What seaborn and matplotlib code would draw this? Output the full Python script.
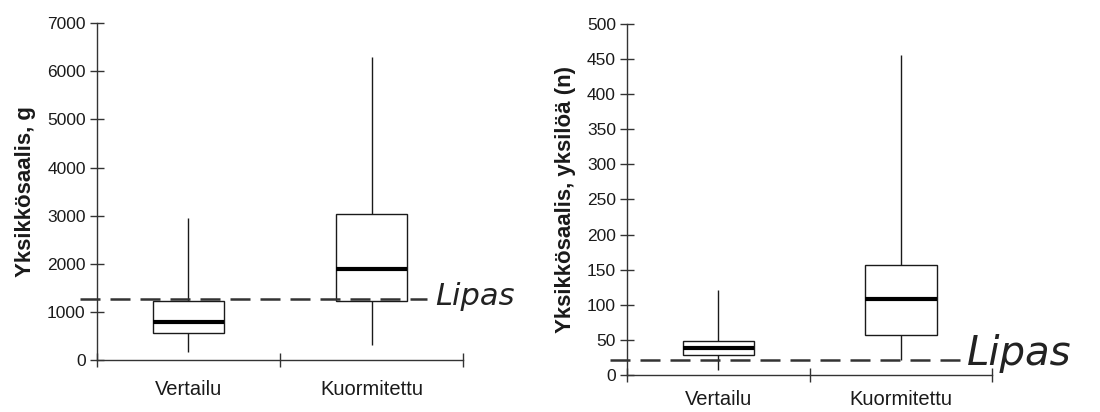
import numpy as np
import pandas as pd
import matplotlib
matplotlib.use("Agg")
import matplotlib.pyplot as plt
import seaborn as sns

# ---- data ----
categories = ["Vertailu", "Kuormitettu"]
# five-number summaries: min, Q1, median, Q3, max
weight_vertailu = [160, 553, 795, 1224, 2960]
weight_kuormitettu = [311, 1224, 1895, 3036, 6293]
count_vertailu = [7, 28, 39, 48, 121]
count_kuormitettu = [21, 57, 108, 157, 456]
lipas_weight = 1259
lipas_count = 21
weight_ticks = [0, 1000, 2000, 3000, 4000, 5000, 6000, 7000]
count_ticks = [0, 50, 100, 150, 200, 250, 300, 350, 400, 450, 500]
ylabel_left = "Yksikkösaalis, g"
ylabel_right = "Yksikkösaalis, yksilöä (n)"
lipas_label = "Lipas"

df_w = pd.DataFrame({
    "group": [categories[0]] * len(weight_vertailu) + [categories[1]] * len(weight_kuormitettu),
    "value": weight_vertailu + weight_kuormitettu,
})
df_n = pd.DataFrame({
    "group": [categories[0]] * len(count_vertailu) + [categories[1]] * len(count_kuormitettu),
    "value": count_vertailu + count_kuormitettu,
})

sns.set_theme(style="white")
plt.rcParams["font.family"] = ["Liberation Sans", "DejaVu Sans"]

fig = plt.figure(figsize=(11, 4.12), dpi=100)
ax1 = fig.add_axes([0.088, 0.126, 0.333, 0.818])
ax2 = fig.add_axes([0.570, 0.090, 0.332, 0.852])

line_col = "#1a1a1a"

def draw(ax, df, ticks, ylabel, lipas, ymax, lipas_xmax, txt_xy, txt_size, xpad):
    sns.boxplot(data=df, x="group", y="value", order=categories, ax=ax,
                whis=(0, 100), width=0.39, showfliers=False, showcaps=False,
                color="white", linecolor=line_col, linewidth=1.0,
                medianprops=dict(color="black", linewidth=3.0),
                boxprops=dict(facecolor="white", edgecolor=line_col, linewidth=1.0),
                whiskerprops=dict(color=line_col, linewidth=1.0))
    ax.axhline(lipas, xmin=-0.047, xmax=lipas_xmax, color="#333333", lw=1.8,
               ls=(0, (8, 4)), clip_on=False, zorder=5)
    ax.set_xlim(-0.5, 1.5)
    ax.set_ylim(0, ymax)
    ax.set_yticks(ticks)
    ax.set_yticklabels([str(t) for t in ticks], fontsize=12.5)
    ax.set_xticks([0, 1])
    ax.set_xticklabels(categories, fontsize=14.5)
    ax.set_xticks([-0.5, 0.5, 1.5], minor=True)
    ax.tick_params(which="both", bottom=True, left=True)
    ax.tick_params(axis="x", which="major", length=0, pad=xpad, colors="#1a1a1a")
    ax.tick_params(axis="x", which="minor", length=10, direction="inout", width=1, color="#333333")
    ax.tick_params(axis="y", which="major", length=10, direction="inout", width=1,
                   color="#333333", pad=3, labelcolor="#1a1a1a")
    ax.set_xlabel("")
    ax.set_ylabel(ylabel, fontsize=16, fontweight="bold", color="#1a1a1a", labelpad=8)
    for s in ["top", "right"]:
        ax.spines[s].set_visible(False)
    for s in ["left", "bottom"]:
        ax.spines[s].set_color("#333333")
        ax.spines[s].set_linewidth(1.0)
    ax.text(txt_xy[0], txt_xy[1], lipas_label, transform=ax.transAxes, fontsize=txt_size,
            fontstyle="italic", color="#222222", ha="left", va="center",
            fontfamily=["DejaVu Sans"], fontweight="light", clip_on=False)

draw(ax1, df_w, weight_ticks, ylabel_left, lipas_weight, 7000, 0.902, (0.925, 0.19), 22, 14)
draw(ax2, df_n, count_ticks, ylabel_right, lipas_count, 500, 0.915, (0.93, 0.06), 29, 11)

fig.savefig("out.png", dpi=100, facecolor="white")
